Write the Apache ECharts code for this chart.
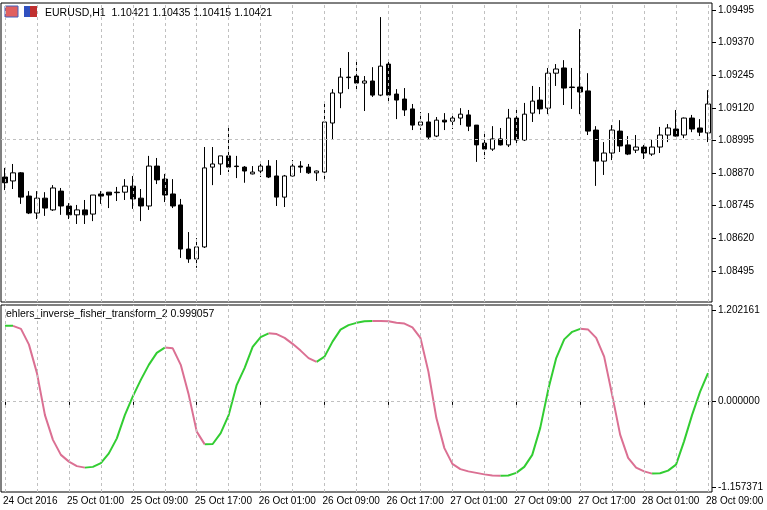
<!DOCTYPE html>
<html>
<head>
<meta charset="utf-8">
<script src="https://cdn.jsdelivr.net/npm/echarts@6/dist/echarts.min.js"></script>
<style>
  html, body { margin: 0; padding: 0; background: #fff; }
  #chart { width: 767px; height: 510px; }
</style>
</head>
<body>
<div id="chart"></div>
<script>
// H1 bars, 24 Oct 2016 17:00 .. 28 Oct 2016 09:00
const opens = [1.08855,1.08840,1.08871,1.08782,1.08717,1.08774,1.08729,1.08801,1.08744,1.08710,
  1.08729,1.08713,1.08790,1.08797,1.08797,1.08797,1.08820,1.08774,1.08744,1.08897,
  1.08847,1.08790,1.08748,1.08579,1.08541,1.08587,1.08893,1.08905,1.08936,1.08897,
  1.08893,1.08867,1.08878,1.08897,1.08859,1.08778,1.08859,1.08897,1.08893,1.08871,
  1.08874,1.09062,1.09177,1.09238,1.09242,1.09215,1.09223,1.09169,1.09288,1.09173,
  1.09154,1.09116,1.09054,1.09066,1.09012,1.09073,1.09069,1.09081,1.09093,1.09054,
  1.08985,1.08962,1.09001,1.08978,1.09081,1.08997,1.09100,1.09150,1.09119,1.09253,
  1.09273,1.09200,1.09200,1.09185,1.09035,1.08916,1.08947,1.09031,1.08978,1.08958,
  1.08970,1.08943,1.08970,1.09016,1.09039,1.09016,1.09081,1.09043,1.09024];
const closes = [1.08833,1.08871,1.08778,1.08717,1.08774,1.08736,1.08813,1.08744,1.08710,1.08729,
  1.08710,1.08786,1.08782,1.08786,1.08795,1.08820,1.08771,1.08744,1.08897,1.08844,
  1.08786,1.08744,1.08579,1.08541,1.08587,1.08890,1.08905,1.08936,1.08893,1.08895,
  1.08878,1.08874,1.08897,1.08855,1.08778,1.08859,1.08897,1.08893,1.08871,1.08878,
  1.09066,1.09177,1.09238,1.09236,1.09215,1.09223,1.09169,1.09280,1.09169,1.09150,
  1.09112,1.09054,1.09066,1.09008,1.09073,1.09066,1.09081,1.09096,1.09050,1.08978,
  1.08962,1.09001,1.08978,1.09081,1.08997,1.09096,1.09146,1.09116,1.09253,1.09269,
  1.09196,1.09198,1.09181,1.09031,1.08916,1.08947,1.09035,1.08974,1.08943,1.08970,
  1.08947,1.08970,1.09016,1.09043,1.09012,1.09081,1.09039,1.09027,1.09135];
const lows = [1.08805,1.08809,1.08752,1.08713,1.08694,1.08706,1.08725,1.08710,1.08694,1.08675,
  1.08675,1.08686,1.08752,1.08736,1.08763,1.08767,1.08733,1.08686,1.08729,1.08828,
  1.08759,1.08736,1.08545,1.08526,1.08507,1.08583,1.08824,1.08863,1.08874,1.08851,
  1.08833,1.08865,1.08855,1.08851,1.08744,1.08740,1.08857,1.08871,1.08867,1.08840,
  1.08847,1.08997,1.09119,1.09192,1.09192,1.09108,1.09162,1.09165,1.09142,1.09077,
  1.09089,1.09035,1.09035,1.08997,1.09008,1.09035,1.09039,1.09054,1.09031,1.08913,
  1.08924,1.08955,1.08976,1.08970,1.08976,1.08993,1.09066,1.09096,1.09096,1.09204,
  1.09131,1.09116,1.09096,1.09016,1.08821,1.08863,1.08920,1.08951,1.08939,1.08947,
  1.08924,1.08936,1.08947,1.08989,1.09010,1.09004,1.09027,1.09012,1.08989];
const highs = [1.08890,1.08905,1.08874,1.08801,1.08801,1.08797,1.08824,1.08813,1.08755,1.08748,
  1.08767,1.08786,1.08801,1.08797,1.08817,1.08847,1.08859,1.08809,1.08936,1.08928,
  1.08867,1.08847,1.08771,1.08644,1.08621,1.08970,1.08970,1.08936,1.09050,1.08936,
  1.08897,1.08897,1.08913,1.08920,1.08920,1.08863,1.08920,1.08916,1.08905,1.08880,
  1.09146,1.09192,1.09273,1.09334,1.09296,1.09242,1.09276,1.09468,1.09307,1.09192,
  1.09196,1.09135,1.09104,1.09100,1.09085,1.09100,1.09100,1.09119,1.09112,1.09054,
  1.09027,1.09050,1.09043,1.09116,1.09123,1.09139,1.09204,1.09200,1.09273,1.09288,
  1.09303,1.09273,1.09422,1.09253,1.09050,1.08989,1.09054,1.09073,1.09012,1.09016,
  1.08978,1.08997,1.09047,1.09058,1.09112,1.09083,1.09093,1.09077,1.09188];

const fisher = [1.00,1.00,0.96,0.75,0.37,-0.19,-0.52,-0.72,-0.81,-0.87,
  -0.89,-0.88,-0.83,-0.70,-0.50,-0.19,0.06,0.28,0.48,0.64,
  0.71,0.70,0.48,0.08,-0.41,-0.58,-0.575,-0.43,-0.19,0.21,
  0.44,0.72,0.85,0.90,0.89,0.84,0.76,0.67,0.57,0.52,
  0.59,0.79,0.95,1.01,1.04,1.06,1.065,1.064,1.06,1.04,
  1.03,0.98,0.84,0.39,-0.23,-0.63,-0.84,-0.91,-0.94,-0.96,
  -0.98,-0.995,-1.00,-0.995,-0.96,-0.88,-0.72,-0.36,0.15,0.57,
  0.82,0.92,0.96,0.95,0.84,0.59,0.08,-0.45,-0.76,-0.89,
  -0.94,-0.97,-0.965,-0.93,-0.85,-0.54,-0.19,0.12,0.37];

const priceTicks = [1.08495,1.08620,1.08745,1.08870,1.08995,1.09120,1.09245,1.09370,1.09495];
const fisherTicks = [-1.157371, 0, 1.202161];
const tickLabels = ['24 Oct 2016','25 Oct 01:00','25 Oct 09:00','25 Oct 17:00','26 Oct 01:00',
  '26 Oct 09:00','26 Oct 17:00','27 Oct 01:00','27 Oct 09:00','27 Oct 17:00','28 Oct 01:00','28 Oct 09:00'];

const categories = opens.map((_, i) => i);
const candles = opens.map((o, i) => [o, closes[i], lows[i], highs[i]]);

// split indicator into rising / falling segments
const upLine = fisher.map(() => null);
const downLine = fisher.map(() => null);
for (let i = 0; i < fisher.length - 1; i++) {
  const target = fisher[i + 1] >= fisher[i] ? upLine : downLine;
  target[i] = fisher[i];
  target[i + 1] = fisher[i + 1];
}

const FONT = '"Liberation Sans", Arial, sans-serif';
const gridDash = { color: '#c0c0c0', type: [3, 3], width: 1 };
const vLines = categories.filter(i => i % 4 === 0).map(i => ({ xAxis: i }));

const chart = echarts.init(document.getElementById('chart'));
chart.setOption({
  animation: false,
  backgroundColor: '#fff',
  textStyle: { fontFamily: FONT },
  grid: [
    { left: 1, top: 3, width: 711, height: 299, show: true, borderColor: '#000', borderWidth: 1 },
    { left: 1, top: 305, width: 711, height: 187, show: true, borderColor: '#000', borderWidth: 1 }
  ],
  xAxis: [
    { type: 'category', gridIndex: 0, data: categories, axisLine: { show: false },
      axisTick: { show: false }, axisLabel: { show: false }, splitLine: { show: false } },
    { type: 'category', gridIndex: 1, data: categories,
      axisLine: { show: false },
      axisTick: { show: true, alignWithLabel: true, interval: i => i % 8 === 0, length: 4, lineStyle: { color: '#000' } },
      axisLabel: { interval: i => i % 8 === 0, formatter: v => tickLabels[v / 8], align: 'left',
        margin: 4, fontSize: 10, color: '#000', fontFamily: FONT, padding: [0, 0, 0, -2],
        hideOverlap: false, showMaxLabel: true },
      splitLine: { show: false } }
  ],
  yAxis: [
    { type: 'value', gridIndex: 0, position: 'right', min: 1.08376, max: 1.09522,
      axisLine: { show: false }, splitLine: { show: false },
      axisTick: { show: true, customValues: priceTicks, length: 4, lineStyle: { color: '#000' } },
      axisLabel: { customValues: priceTicks, formatter: v => v.toFixed(5), fontSize: 10, color: '#000', margin: 6 } },
    { type: 'value', gridIndex: 1, position: 'right', min: -1.215, max: 1.278,
      axisLine: { show: false }, splitLine: { show: false },
      axisTick: { show: true, customValues: fisherTicks, length: 4, lineStyle: { color: '#000' } },
      axisLabel: { customValues: fisherTicks, formatter: v => v.toFixed(6), fontSize: 10, color: '#000', margin: 6 } }
  ],
  graphic: [
    { type: 'rect', shape: { x: 5, y: 6, width: 13, height: 11 }, style: { fill: '#e06060', stroke: '#4060c0' } },
    { type: 'rect', shape: { x: 24, y: 6, width: 6, height: 11 }, style: { fill: '#3050c0' } },
    { type: 'rect', shape: { x: 30, y: 6, width: 7, height: 11 }, style: { fill: '#c03030' } },
    { type: 'text', left: 45, top: 8, style: { text: 'EURUSD,H1  1.10421 1.10435 1.10415 1.10421', fill: '#000', font: '10.5px ' + FONT } },
    { type: 'text', left: 6, top: 309, style: { text: 'ehlers_inverse_fisher_transform_2 0.999057', fill: '#000', font: '10.5px ' + FONT } }
  ],
  series: [
    { type: 'candlestick', xAxisIndex: 0, yAxisIndex: 0, data: candles, barWidth: 5,
      itemStyle: { color: '#fff', color0: '#000', borderColor: '#000', borderColor0: '#000', borderWidth: 1 },
      markLine: { silent: true, symbol: 'none', label: { show: false }, lineStyle: gridDash,
        data: priceTicks.map(p => ({ yAxis: p })).concat(vLines) } },
    { type: 'line', xAxisIndex: 1, yAxisIndex: 1, data: upLine, showSymbol: false, connectNulls: false,
      lineStyle: { color: '#32cd32', width: 2 }, z: 3,
      markLine: { silent: true, symbol: 'none', label: { show: false }, lineStyle: gridDash,
        data: [{ yAxis: 0 }].concat(vLines) } },
    { type: 'line', xAxisIndex: 1, yAxisIndex: 1, data: downLine, showSymbol: false, connectNulls: false,
      lineStyle: { color: '#db7093', width: 2 }, z: 3 }
  ]
});
</script>
</body>
</html>
